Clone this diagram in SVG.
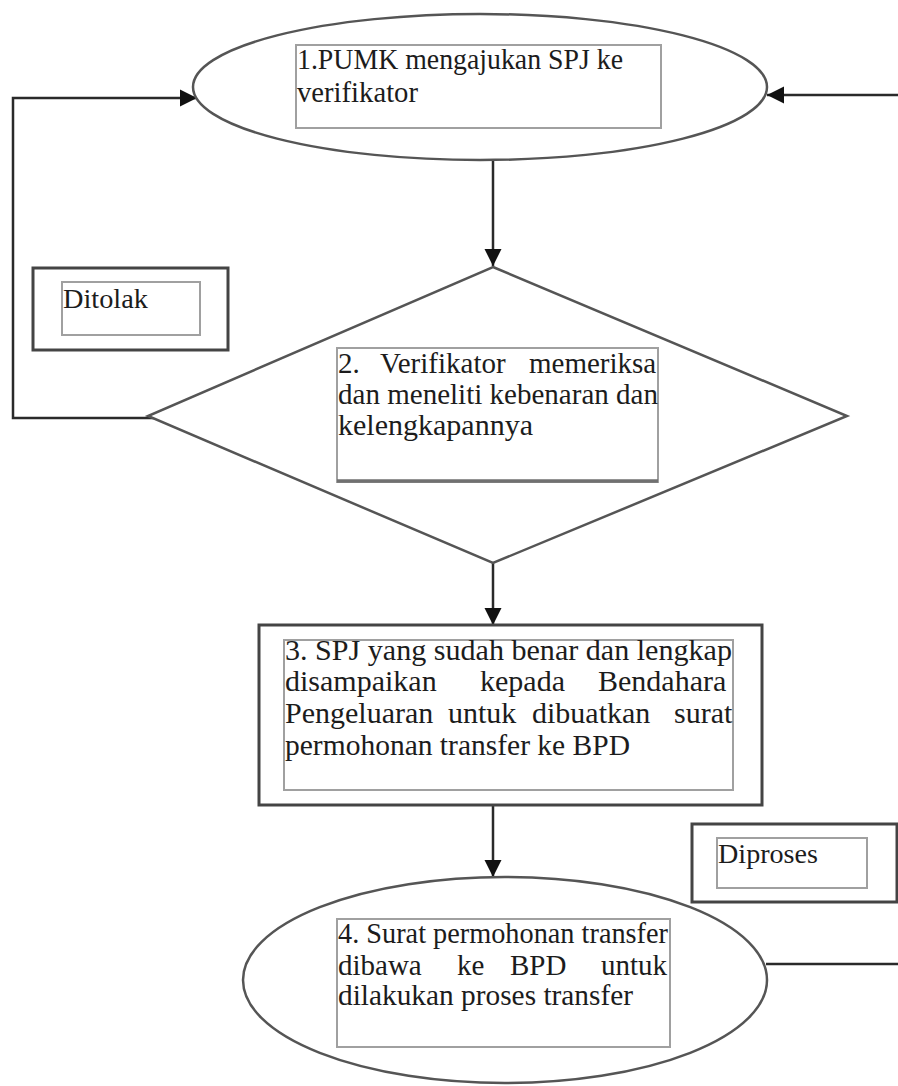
<svg xmlns="http://www.w3.org/2000/svg" width="898" height="1086" viewBox="0 0 898 1086">
<defs>
<marker id="arr" viewBox="0 0 10 10" refX="10" refY="5" markerWidth="17" markerHeight="18" markerUnits="userSpaceOnUse" orient="auto">
<path d="M0,0 L10,5 L0,10 z" fill="#111"/>
</marker>
<style>
.shape{fill:#fff;stroke:#555;stroke-width:2.5}
.outer{fill:#fff;stroke:#444;stroke-width:3}
.inner{fill:#fff;stroke:#a0a0a0;stroke-width:2}
.conn{fill:none;stroke:#2a2a2a;stroke-width:2.5}
.t{font-family:"Liberation Serif","Times New Roman",serif;font-size:29px;fill:#1c1c1c}
.t30{font-size:30px}
.t28{font-size:28px}
</style>
</defs>
<rect width="898" height="1086" fill="#fff"/>

<g id="connectors">
<path class="conn" d="M493,160 V266" marker-end="url(#arr)"/>
<path class="conn" d="M493,563 V625" marker-end="url(#arr)"/>
<path class="conn" d="M493,805 V877" marker-end="url(#arr)"/>
<path class="conn" d="M177,418 H13 V98 H197" marker-end="url(#arr)"/>
<path class="conn" d="M898,95 H767" marker-end="url(#arr)"/>
<path class="conn" d="M766,964 H898"/>
</g>

<g id="node1">
<ellipse class="shape" cx="480" cy="87" rx="287" ry="73"/>
<rect class="inner" x="296" y="45" width="365" height="83"/>
<text class="t" x="297" y="69" textLength="326" lengthAdjust="spacingAndGlyphs">1.PUMK mengajukan SPJ ke</text>
<text class="t" x="297" y="102" textLength="121" lengthAdjust="spacingAndGlyphs">verifikator</text>
</g>

<g id="node-ditolak">
<rect class="outer" x="33" y="268" width="195" height="82"/>
<rect class="inner" x="62" y="282" width="138" height="53"/>
<text class="t t28" x="63" y="308" textLength="85" lengthAdjust="spacingAndGlyphs">Ditolak</text>
</g>

<g id="node2">
<polygon class="shape" points="493,267 847,416 493,563 148,416"/>
<rect class="inner" x="337" y="348" width="321" height="134"/>
<line x1="337" y1="481" x2="658" y2="481" stroke="#707070" stroke-width="3.5"/>
<text class="t" y="373"><tspan x="338">2.</tspan><tspan x="380">Verifikator</tspan><tspan x="529">memeriksa</tspan></text>
<text class="t" x="338" y="404" textLength="320" lengthAdjust="spacingAndGlyphs">dan meneliti kebenaran dan</text>
<text class="t" x="338" y="435" textLength="195" lengthAdjust="spacingAndGlyphs">kelengkapannya</text>
</g>

<g id="node3">
<rect class="outer" x="259" y="625" width="503" height="180"/>
<rect class="inner" x="284" y="640" width="449" height="150"/>
<text class="t t30" x="285" y="660" textLength="447" lengthAdjust="spacingAndGlyphs">3. SPJ yang sudah benar dan lengkap</text>
<text class="t t30" y="691"><tspan x="285">disampaikan</tspan><tspan x="480">kepada</tspan><tspan x="598">Bendahara</tspan></text>
<text class="t t30" y="723"><tspan x="285">Pengeluaran</tspan><tspan x="448">untuk</tspan><tspan x="532">dibuatkan</tspan><tspan x="674">surat</tspan></text>
<text class="t t30" x="285" y="755" textLength="345" lengthAdjust="spacingAndGlyphs">permohonan transfer ke BPD</text>
</g>

<g id="node-diproses">
<rect class="outer" x="692" y="824" width="205" height="78"/>
<rect class="inner" x="717" y="838" width="150" height="50"/>
<text class="t t28" x="718" y="863" textLength="100" lengthAdjust="spacingAndGlyphs">Diproses</text>
</g>

<g id="node4">
<ellipse class="shape" cx="505" cy="980" rx="262" ry="103"/>
<rect class="inner" x="337" y="919" width="333" height="128"/>
<text class="t" x="338" y="943" textLength="330" lengthAdjust="spacingAndGlyphs">4. Surat permohonan transfer</text>
<text class="t" y="975"><tspan x="338">dibawa</tspan><tspan x="457">ke</tspan><tspan x="510">BPD</tspan><tspan x="601">untuk</tspan></text>
<text class="t" x="338" y="1005" textLength="295" lengthAdjust="spacingAndGlyphs">dilakukan proses transfer</text>
</g>
</svg>
